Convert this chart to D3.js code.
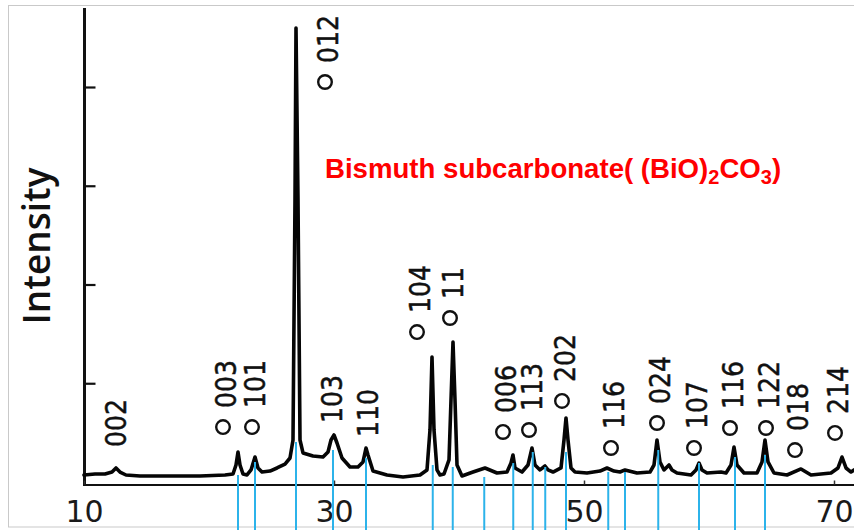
<!DOCTYPE html>
<html>
<head>
<meta charset="utf-8">
<script src="https://cdn.jsdelivr.net/npm/d3@7"></script>
<style>
  html, body { margin: 0; padding: 0; background: #fff; }
  svg { display: block; }
</style>
</head>
<body>
<svg id="chart" width="854" height="530"></svg>
<script>
// XRD pattern of bismuth subcarbonate, (BiO)2CO3
const twoTheta = [
  10.0, 10.88, 11.68, 12.24, 12.56, 12.88, 13.36, 14.48, 16.88, 19.28,
  21.28, 21.92, 22.16, 22.32, 22.48, 22.72, 23.04, 23.36, 23.68, 23.92,
  24.24, 24.88, 25.44, 26.08, 26.48, 26.72, 26.88, 26.96, 27.12, 27.28,
  27.52, 28.32, 29.12, 29.52, 29.76, 30.0, 30.24, 30.64, 31.28, 31.92,
  32.32, 32.56, 32.72, 33.12, 34.24, 35.52, 36.88, 37.44, 37.68, 37.84,
  38.0, 38.24, 38.48, 38.8, 39.2, 39.36, 39.52, 39.68, 39.84, 40.24,
  41.12, 42.08, 43.04, 43.84, 44.16, 44.32, 44.48, 45.04, 45.52, 45.84,
  46.08, 46.48, 46.88, 47.12, 47.52, 48.16, 48.4, 48.56, 48.72, 48.96,
  49.28, 50.24, 51.28, 51.84, 52.4, 52.88, 53.28, 54.24, 55.28, 55.6,
  55.84, 56.08, 56.4, 56.8, 57.04, 57.44, 58.56, 58.96, 59.2, 59.44,
  59.84, 60.96, 61.36, 61.76, 62.0, 62.24, 62.8, 63.84, 64.24, 64.48,
  64.72, 65.2, 66.24, 67.36, 68.16, 69.76, 70.32, 70.64, 70.96, 71.36,
  71.6
];
const intensity = [
  71, 81, 81, 101, 142, 101, 71, 61, 61, 61,
  71, 81, 172, 304, 172, 81, 71, 122, 253, 142,
  101, 111, 142, 182, 243, 425, 2856, 4597, 2856, 425,
  294, 263, 253, 304, 425, 476, 395, 243, 152, 152,
  203, 344, 273, 111, 71, 51, 71, 122, 527, 1266,
  527, 122, 71, 81, 223, 830, 1418, 830, 172, 61,
  101, 142, 91, 101, 192, 273, 142, 101, 172, 344,
  172, 122, 162, 122, 101, 142, 425, 648, 425, 142,
  101, 91, 111, 142, 111, 101, 122, 91, 101, 172,
  425, 203, 122, 172, 122, 91, 71, 122, 192, 122,
  91, 101, 91, 172, 354, 172, 91, 91, 203, 425,
  203, 91, 71, 132, 71, 91, 142, 253, 142, 101,
  122
];

// Standard reflection positions and the heights their markers start from
const refTheta = [22.32, 23.68, 26.96, 29.92, 32.56, 37.9, 39.5, 42.02, 44.34, 45.9,
                  46.9, 48.56, 51.94, 53.28, 55.94, 59.2, 62.08, 64.48];
const refTop = [71, 203, 405, 324, 243, 172, 152, 51, 192, 304,
                152, 304, 101, 101, 324, 192, 253, 273];

// Miller-index labels
const labelText  = ["002", "003", "101", "012", "103", "110", "104", "11", "006", "113",
                    "202", "116", "024", "107", "116", "122", "018", "214"];
const labelTheta = [12.56, 21.36, 23.68, 29.52, 29.84, 32.72, 36.88, 39.52, 43.76, 45.84,
                    48.48, 52.4, 56.08, 59.04, 61.92, 64.8, 67.12, 70.32];
const labelLevel = [354, 749, 749, 4243, 597, 456, 1711, 1853, 699, 719,
                    1013, 537, 790, 537, 739, 739, 516, 689];
const labelMark  = [false, true, true, true, false, false, true, true, true, true,
                    true, true, true, true, true, true, true, true];

const xTicks = [10, 30, 50, 70];
const yTicks = [1000, 2000, 3000, 4000];

const titleParts = [
  { t: "Bismuth subcarbonate( (BiO)", sub: false },
  { t: "2", sub: true },
  { t: "CO", sub: false },
  { t: "3", sub: true },
  { t: ")", sub: false }
];

const svg = d3.select("#chart");

// frame
svg.append("rect")
  .attr("x", 8.5).attr("y", 5.5)
  .attr("width", 900).attr("height", 521.5)
  .attr("fill", "#fff")
  .attr("stroke", "#c9c9c9").attr("stroke-width", 1);

const x = d3.scaleLinear().domain([10, 71.6]).range([84, 854]);
const y = d3.scaleLinear().domain([0, 4800]).range([482, 8]);

// y axis: bare line with inward ticks
const yAxis = svg.append("g")
  .attr("transform", "translate(84.5,0)")
  .call(d3.axisLeft(y).tickValues(yTicks).tickSizeInner(-11).tickSizeOuter(0).tickFormat(""));
yAxis.select(".domain").remove();
yAxis.selectAll(".tick line").attr("stroke", "#111").attr("stroke-width", 2.2);
svg.append("line")
  .attr("x1", 84.5).attr("x2", 84.5).attr("y1", 8).attr("y2", 486)
  .attr("stroke", "#111").attr("stroke-width", 3);

// x axis
const xAxis = svg.append("g")
  .attr("transform", "translate(0,484.5)")
  .call(d3.axisBottom(x).tickValues(xTicks).tickSizeInner(-4).tickSizeOuter(0).tickPadding(9));
xAxis.select(".domain").attr("stroke", "#111").attr("stroke-width", 2.2);
xAxis.selectAll(".tick line").attr("stroke", "#333").attr("stroke-width", 1.5);
xAxis.selectAll(".tick text")
  .attr("y", 37.5).attr("dy", null)
  .attr("fill", "#1a1a1a")
  .style("font-family", "'DejaVu Sans', sans-serif")
  .style("font-size", "30px");

// pattern curve
const pts = twoTheta.map((t, i) => [t, intensity[i]]);
svg.append("path")
  .datum(pts)
  .attr("fill", "none")
  .attr("stroke", "#050505")
  .attr("stroke-width", 3.6)
  .attr("stroke-linejoin", "round")
  .attr("stroke-linecap", "round")
  .attr("d", d3.line().x(d => x(d[0])).y(d => y(d[1])));

// reference markers
svg.append("g").selectAll("line")
  .data(refTheta)
  .join("line")
  .attr("x1", d => x(d)).attr("x2", d => x(d))
  .attr("y1", (d, i) => y(refTop[i]))
  .attr("y2", 530)
  .attr("stroke", "#2cb3ea")
  .attr("stroke-width", 2);

// peak labels
const lab = svg.append("g");
labelText.forEach((txt, i) => {
  const cx = x(labelTheta[i]);
  const by = y(labelLevel[i]);
  lab.append("text")
    .attr("transform", `translate(${cx},${by}) rotate(-90)`)
    .attr("dy", "0.36em")
    .attr("textLength", 16 * txt.length)
    .attr("lengthAdjust", "spacingAndGlyphs")
    .attr("fill", "#111")
    .attr("stroke", "#111")
    .attr("stroke-width", 0.5)
    .style("font-family", "'DejaVu Sans', sans-serif")
    .style("font-size", "29px")
    .text(txt);
  if (labelMark[i]) {
    lab.append("circle")
      .attr("cx", cx - 3).attr("cy", by + 19)
      .attr("r", 6.8)
      .attr("fill", "none")
      .attr("stroke", "#111")
      .attr("stroke-width", 2.4);
  }
});

// y axis title
svg.append("text")
  .attr("transform", "translate(50,246) rotate(-90)")
  .attr("text-anchor", "middle")
  .attr("fill", "#111")
  .style("font-family", "'Open Sans', sans-serif")
  .style("font-weight", 600)
  .style("font-size", "37px")
  .text("Intensity");

// compound name
const title = svg.append("text")
  .attr("x", 325).attr("y", 178)
  .attr("fill", "#ff0000")
  .style("font-family", "'Liberation Sans', Arial, sans-serif")
  .style("font-weight", "bold")
  .style("font-size", "27.6px");
titleParts.forEach(p => {
  const ts = title.append("tspan").text(p.t);
  if (p.sub) ts.attr("dy", 6).style("font-size", "20px");
  else ts.attr("dy", p === titleParts[0] ? 0 : -6);
});
</script>
</body>
</html>
